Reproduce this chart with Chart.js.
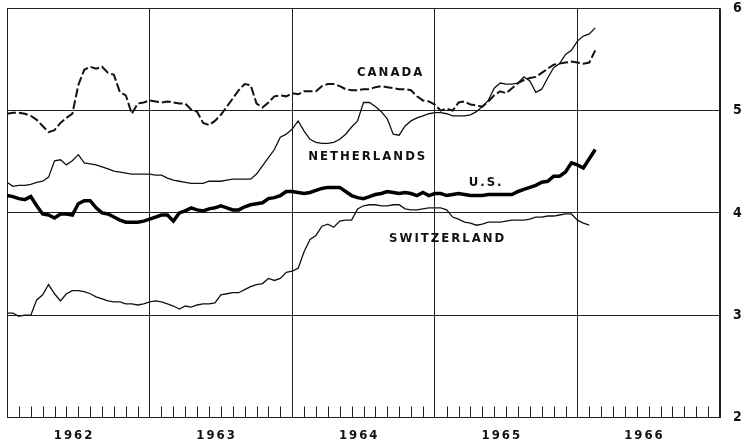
<!DOCTYPE html>
<html>
<head>
<meta charset="utf-8">
<script src="https://cdn.jsdelivr.net/npm/chart.js@4/dist/chart.umd.min.js"></script>
<style>
  html, body { margin: 0; padding: 0; background: #fff; }
  canvas { display: block; }
</style>
</head>
<body>
<canvas id="myChart" width="754" height="445"></canvas>
<script>
// half-monthly observations, decimal years from Jan 1962
const dates = Array.from({ length: 100 }, (_, i) => 1962 + i / 24);

const canada = [
  4.97, 4.98, 4.98, 4.97, 4.95, 4.91, 4.85, 4.79, 4.81, 4.88,
  4.93, 4.97, 5.25, 5.40, 5.43, 5.41, 5.43, 5.37, 5.35, 5.18,
  5.15, 4.97, 5.07, 5.08, 5.10, 5.09, 5.08, 5.09, 5.08, 5.07,
  5.07, 5.01, 4.99, 4.88, 4.86, 4.90, 4.96, 5.04, 5.12, 5.20,
  5.26, 5.25, 5.07, 5.03, 5.08, 5.14, 5.15, 5.14, 5.17, 5.16,
  5.19, 5.19, 5.19, 5.24, 5.26, 5.26, 5.24, 5.21, 5.20, 5.20,
  5.21, 5.21, 5.23, 5.24, 5.23, 5.22, 5.21, 5.21, 5.20, 5.14,
  5.10, 5.09, 5.06, 5.00, 5.02, 5.00, 5.08, 5.09, 5.06, 5.05,
  5.04, 5.09, 5.15, 5.19, 5.17, 5.22, 5.27, 5.30, 5.32, 5.33,
  5.37, 5.41, 5.45, 5.46, 5.47, 5.48, 5.47, 5.46, 5.47, 5.59
];

const netherlands = [
  4.30, 4.26, 4.27, 4.27, 4.28, 4.30, 4.31, 4.35, 4.51, 4.52,
  4.47, 4.51, 4.57, 4.49, 4.48, 4.47, 4.45, 4.43, 4.41, 4.40,
  4.39, 4.38, 4.38, 4.38, 4.38, 4.37, 4.37, 4.34, 4.32, 4.31,
  4.30, 4.29, 4.29, 4.29, 4.31, 4.31, 4.31, 4.32, 4.33, 4.33,
  4.33, 4.33, 4.38, 4.46, 4.54, 4.62, 4.74, 4.77, 4.82, 4.90,
  4.80, 4.72, 4.69, 4.68, 4.68, 4.69, 4.72, 4.77, 4.84, 4.90,
  5.08, 5.08, 5.04, 4.99, 4.92, 4.77, 4.76, 4.85, 4.90, 4.93,
  4.95, 4.97, 4.98, 4.98, 4.97, 4.95, 4.95, 4.95, 4.96, 4.99,
  5.04, 5.10, 5.22, 5.27, 5.26, 5.26, 5.27, 5.33, 5.29, 5.18,
  5.21, 5.32, 5.42, 5.46, 5.55, 5.59, 5.68, 5.73, 5.75, 5.81
];

const us = [
  4.17, 4.16, 4.14, 4.13, 4.16, 4.07, 3.99, 3.98, 3.95, 3.99,
  3.99, 3.98, 4.09, 4.12, 4.12, 4.05, 4.00, 3.99, 3.96, 3.93,
  3.91, 3.91, 3.91, 3.92, 3.94, 3.96, 3.98, 3.98, 3.92, 4.00,
  4.02, 4.05, 4.03, 4.02, 4.04, 4.05, 4.07, 4.05, 4.03, 4.03,
  4.06, 4.08, 4.09, 4.10, 4.14, 4.15, 4.17, 4.21, 4.21, 4.20,
  4.19, 4.20, 4.22, 4.24, 4.25, 4.25, 4.25, 4.21, 4.17, 4.15,
  4.14, 4.16, 4.18, 4.19, 4.21, 4.20, 4.19, 4.20, 4.19, 4.17,
  4.20, 4.17, 4.19, 4.19, 4.17, 4.18, 4.19, 4.18, 4.17, 4.17,
  4.17, 4.18, 4.18, 4.18, 4.18, 4.18, 4.21, 4.23, 4.25, 4.27,
  4.30, 4.31, 4.36, 4.36, 4.40, 4.49, 4.47, 4.44, 4.53, 4.62
];

const switzerland = [
  3.02, 3.02, 2.99, 3.00, 3.00, 3.15, 3.20, 3.30, 3.21, 3.14,
  3.21, 3.24, 3.24, 3.23, 3.21, 3.18, 3.16, 3.14, 3.13, 3.13,
  3.11, 3.11, 3.10, 3.11, 3.13, 3.14, 3.13, 3.11, 3.09, 3.06,
  3.09, 3.08, 3.10, 3.11, 3.11, 3.12, 3.20, 3.21, 3.22, 3.22,
  3.25, 3.28, 3.30, 3.31, 3.36, 3.34, 3.36, 3.42, 3.43, 3.46,
  3.62, 3.74, 3.78, 3.87, 3.89, 3.86, 3.92, 3.93, 3.93, 4.04,
  4.07, 4.08, 4.08, 4.07, 4.07, 4.08, 4.08, 4.04, 4.03, 4.03,
  4.04, 4.05, 4.05, 4.05, 4.03, 3.96, 3.94, 3.91, 3.90, 3.88,
  3.89, 3.91, 3.91, 3.91, 3.92, 3.93, 3.93, 3.93, 3.94, 3.96,
  3.96, 3.97, 3.97, 3.98, 3.99, 3.99, 3.93, 3.90, 3.88, null
];

const yearTicks = [1962, 1963, 1964, 1965, 1966, 1967];
const yearLabels = ['1962', '1963', '1964', '1965', '1966'];
const rateTicks = [2, 3, 4, 5, 6];

// series names and where they are written (year, rate)
const seriesNames = ['CANADA', 'NETHERLANDS', 'U.S.', 'SWITZERLAND'];
const nameAt = [[1964.69, 5.37], [1964.53, 4.55], [1965.36, 4.30], [1965.09, 3.75]];

const FAMILY = "'DejaVu Sans Condensed', 'DejaVu Sans', sans-serif";

function pts(vals) {
  return dates.map((t, i) => ({ x: t, y: vals[i] }));
}

// monthly tick marks on the bottom border, year labels and series names
const extras = {
  id: 'extras',
  afterDatasetsDraw(chart) {
    const ctx = chart.ctx;
    const xs = chart.scales.x;
    const ys = chart.scales.y;
    const bottom = chart.chartArea.bottom;
    ctx.save();
    ctx.strokeStyle = '#222';
    ctx.lineWidth = 1;
    for (let m = 1; m < 60; m++) {
      if (m % 12 === 0) continue;
      const px = Math.round(xs.getPixelForValue(1962 + m / 12)) + 0.5;
      ctx.beginPath();
      ctx.moveTo(px, bottom);
      ctx.lineTo(px, bottom - 11);
      ctx.stroke();
    }
    ctx.fillStyle = '#111';
    ctx.textAlign = 'center';
    ctx.textBaseline = 'middle';
    ctx.letterSpacing = '2px';
    ctx.font = 'bold 13px ' + FAMILY;
    yearLabels.forEach((lab, i) => {
      ctx.fillText(lab, xs.getPixelForValue(yearTicks[i] + 0.47), bottom + 18);
    });
    seriesNames.forEach((name, i) => {
      ctx.fillText(name, xs.getPixelForValue(nameAt[i][0]), ys.getPixelForValue(nameAt[i][1]));
    });
    ctx.restore();
  }
};

const ctx = document.getElementById('myChart').getContext('2d');
window.myChart = new Chart(ctx, {
  type: 'line',
  data: {
    datasets: [
      {
        label: 'Canada',
        data: pts(canada),
        borderColor: '#111',
        borderWidth: 2,
        borderDash: [9, 3],
        pointRadius: 0,
        fill: false
      },
      {
        label: 'Netherlands',
        data: pts(netherlands),
        borderColor: '#111',
        borderWidth: 1.3,
        pointRadius: 0,
        fill: false
      },
      {
        label: 'U.S.',
        data: pts(us),
        borderColor: '#000',
        borderWidth: 3.5,
        pointRadius: 0,
        fill: false
      },
      {
        label: 'Switzerland',
        data: pts(switzerland),
        borderColor: '#111',
        borderWidth: 1.3,
        pointRadius: 0,
        fill: false
      }
    ]
  },
  options: {
    responsive: false,
    animation: false,
    devicePixelRatio: 1,
    layout: { padding: { left: 7, top: 7, right: 0, bottom: 0 } },
    plugins: {
      legend: { display: false },
      tooltip: { enabled: false }
    },
    elements: { line: { tension: 0 } },
    scales: {
      x: {
        type: 'linear',
        min: 1962,
        max: 1967,
        afterBuildTicks: s => { s.ticks = yearTicks.map(v => ({ value: v })); },
        afterFit: s => { s.height = 27.5; },
        grid: { color: '#222', lineWidth: 1, drawTicks: false },
        border: { color: '#222', width: 1 },
        ticks: { display: false }
      },
      y: {
        position: 'right',
        min: 2,
        max: 6,
        afterBuildTicks: s => { s.ticks = rateTicks.map(v => ({ value: v })); },
        afterFit: s => { s.width = 34; },
        grid: { color: '#222', lineWidth: 1, drawTicks: true, tickLength: 13, tickColor: 'rgba(0,0,0,0)' },
        border: { color: '#222', width: 1.5 },
        ticks: {
          padding: 0,
          align: 'inner',
          color: '#111',
          font: { family: FAMILY, size: 14, weight: 'bold' }
        }
      }
    }
  },
  plugins: [extras]
});
</script>
</body>
</html>
